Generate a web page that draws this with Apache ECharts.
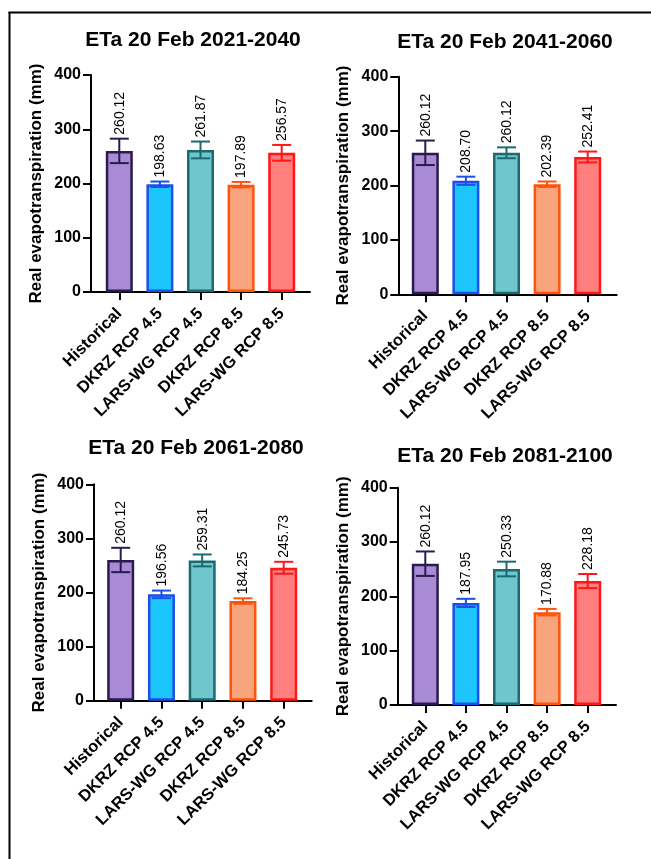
<!DOCTYPE html>
<html><head><meta charset="utf-8">
<script src="https://cdn.jsdelivr.net/npm/echarts@6/dist/echarts.min.js"></script>
<style>html,body{margin:0;padding:0;background:#fff}#c{width:651px;height:859px}</style>
</head><body><div id="c"></div>
<script>
const categories = ['Historical', 'DKRZ RCP 4.5', 'LARS-WG RCP 4.5', 'DKRZ RCP 8.5', 'LARS-WG RCP 8.5'];
const titles = ['ETa 20 Feb 2021-2040', 'ETa 20 Feb 2041-2060', 'ETa 20 Feb 2061-2080', 'ETa 20 Feb 2081-2100'];
const mean2021 = [260.12, 198.63, 261.87, 197.89, 256.57];
const err2021  = [22.5, 5, 15.5, 5, 14.5];
const mean2041 = [260.12, 208.70, 260.12, 202.39, 252.41];
const err2041  = [22.5, 7.5, 10, 5, 10];
const mean2061 = [260.12, 196.56, 259.31, 184.25, 245.73];
const err2061  = [22.5, 7, 11, 5, 11];
const mean2081 = [260.12, 187.95, 250.33, 170.88, 228.18];
const err2081  = [22.5, 7.5, 13.5, 6, 13];
const yTicks = [0, 100, 200, 300, 400];
const yName = 'Real evapotranspiration (mm)';

const fills   = ['#A88BD4', '#1CC6FC', '#6FC7CD', '#F8A47C', '#FF7F7F'];
const borders = ['#2A1B4E', '#1C4FE6', '#1A6A70', '#FF520A', '#FF1717'];
const FF = '"Liberation Sans", Arial, Helvetica, sans-serif';

const means = [mean2021, mean2041, mean2061, mean2081];
const errs = [err2021, err2041, err2061, err2081];

const layout = [
  {ax: 91,    top: 75,    bottom: 292,   xEnd: 310,   c0: 119.3, sp: 40.6,  tx: 193, ty: 40},
  {ax: 398.3, top: 76.7,  bottom: 294.3, xEnd: 616.7, c0: 425.3, sp: 40.6,  tx: 505, ty: 42},
  {ax: 94,    top: 484.3, bottom: 700.7, xEnd: 311.7, c0: 120.7, sp: 40.75, tx: 196, ty: 448},
  {ax: 397.7, top: 487.7, bottom: 705,   xEnd: 616,   c0: 425.3, sp: 40.6,  tx: 505, ty: 456}
];

const grid = [], xAxis = [], yAxis = [], series = [];
const graphic = [
  {type: 'line', shape: {x1: 9.5, y1: 12, x2: 9.5, y2: 859}, style: {stroke: '#000', lineWidth: 2}},
  {type: 'line', shape: {x1: 8.5, y1: 12.5, x2: 651, y2: 12.5}, style: {stroke: '#000', lineWidth: 2}}
];

function renderErr(params, api) {
  const j = api.value(0), m = api.value(1), e = api.value(2);
  const t = api.coord([j, m + e]), b = api.coord([j, m - e]);
  const col = borders[j];
  const hw = 9.5;
  const ls = {stroke: col, lineWidth: 2};
  return {type: 'group', children: [
    {type: 'line', shape: {x1: t[0], y1: t[1], x2: b[0], y2: b[1]}, style: ls},
    {type: 'line', shape: {x1: t[0] - hw, y1: t[1], x2: t[0] + hw, y2: t[1]}, style: ls},
    {type: 'line', shape: {x1: b[0] - hw, y1: b[1], x2: b[0] + hw, y2: b[1]}, style: ls},
    {type: 'text', x: t[0] + 0.5, y: t[1] - 4, rotation: Math.PI / 2,
      style: {text: m.toFixed(2), fontSize: 14, fontFamily: FF, fill: '#000', align: 'left', verticalAlign: 'middle'}}
  ]};
}

layout.forEach((L, i) => {
  const ga = 2 * i, gb = 2 * i + 1;
  grid.push({left: L.ax, top: L.top, width: L.xEnd - L.ax, height: L.bottom - L.top, containLabel: false, outerBoundsMode: 'none'});
  grid.push({left: L.c0 - L.sp / 2, top: L.top, width: L.sp * 5, height: L.bottom - L.top, containLabel: false, outerBoundsMode: 'none'});
  xAxis.push({gridIndex: ga, type: 'value', min: 0, max: 1,
    axisLine: {show: true, onZero: false, lineStyle: {color: '#000', width: 2}},
    axisTick: {show: false}, axisLabel: {show: false}, splitLine: {show: false}});
  xAxis.push({gridIndex: gb, type: 'category', data: categories,
    axisLine: {show: false},
    axisTick: {show: true, alignWithLabel: true, length: 8, lineStyle: {color: '#000', width: 2}},
    axisLabel: {interval: 0, rotate: 45, fontSize: 16.5, fontWeight: 'bold', fontFamily: FF, color: '#000', margin: 19},
    splitLine: {show: false}});
  yAxis.push({gridIndex: ga, type: 'value', min: yTicks[0], max: yTicks[yTicks.length - 1], interval: 100,
    axisLine: {show: true, lineStyle: {color: '#000', width: 2}},
    axisTick: {show: true, length: 8, lineStyle: {color: '#000', width: 2}},
    axisLabel: {fontSize: 16, fontWeight: 'bold', fontFamily: FF, color: '#000', margin: 10},
    splitLine: {show: false},
    name: yName, nameLocation: 'middle', nameGap: 46,
    nameTextStyle: {fontSize: 17, fontWeight: 'bold', fontFamily: FF, color: '#000'}});
  yAxis.push({gridIndex: gb, type: 'value', min: yTicks[0], max: yTicks[yTicks.length - 1], show: false});
  series.push({type: 'bar', xAxisIndex: gb, yAxisIndex: gb, barWidth: 27, z: 2,
    data: means[i].map((v, j) => ({value: v, itemStyle: {color: fills[j], borderColor: borders[j], borderWidth: 2.5}}))});
  series.push({type: 'custom', xAxisIndex: gb, yAxisIndex: gb, z: 3, renderItem: renderErr,
    data: means[i].map((v, j) => [j, v, errs[i][j]])});
  graphic.push({type: 'text', x: L.tx, y: L.ty,
    style: {text: titles[i], font: 'bold 21px ' + FF, fill: '#000', align: 'center', verticalAlign: 'middle', textAlign: 'center', textVerticalAlign: 'middle'}});
});

const chart = echarts.init(document.getElementById('c'), null, {renderer: 'canvas'});
chart.setOption({animation: false, backgroundColor: '#fff', grid, xAxis, yAxis, series, graphic});
</script>
</body></html>
